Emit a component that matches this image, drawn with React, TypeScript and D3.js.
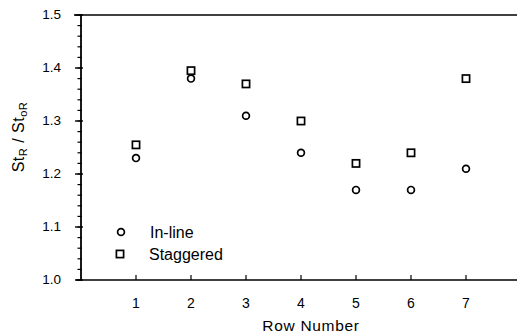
import React, { useEffect, useRef } from "react";
import * as d3 from "d3";

const rows = [1, 2, 3, 4, 5, 6, 7];
const inline = [1.23, 1.38, 1.31, 1.24, 1.17, 1.17, 1.21];
const staggered = [1.255, 1.395, 1.37, 1.3, 1.22, 1.24, 1.38];
const yTicks = [1.0, 1.1, 1.2, 1.3, 1.4, 1.5];

const W = 517;
const H = 333;

export default function App() {
  const svgRef = useRef<SVGSVGElement>(null);

  useEffect(() => {
    if (!svgRef.current) return;
    const svg = d3.select(svgRef.current);
    svg.selectAll("*").remove();

    const x = d3.scaleLinear().domain([0, 8]).range([81, 521]);
    const y = d3.scaleLinear().domain([1.0, 1.5]).range([280, 15]);
    const font = "Liberation Sans, Arial, sans-serif";

    // frame lines (left, top, bottom)
    svg.append("line").attr("x1", 74).attr("x2", W).attr("y1", y(1.5)).attr("y2", y(1.5))
      .attr("stroke", "#000").attr("stroke-width", 1.6);
    svg.append("line").attr("x1", 76).attr("x2", W).attr("y1", y(1.0)).attr("y2", y(1.0))
      .attr("stroke", "#000").attr("stroke-width", 1.6);
    svg.append("line").attr("x1", 81).attr("x2", 81).attr("y1", y(1.5)).attr("y2", y(1.0))
      .attr("stroke", "#000").attr("stroke-width", 1.8);

    // y minor ticks
    const minor = d3.range(1.0, 1.5001, 0.02);
    svg.append("g").selectAll("line").data(minor).join("line")
      .attr("x1", 77.5).attr("x2", 82)
      .attr("y1", d => y(d)).attr("y2", d => y(d))
      .attr("stroke", "#000").attr("stroke-width", 1.2);

    // y major ticks + labels
    const yg = svg.append("g");
    yg.selectAll("line").data(yTicks).join("line")
      .attr("x1", 75).attr("x2", 83)
      .attr("y1", d => y(d)).attr("y2", d => y(d))
      .attr("stroke", "#000").attr("stroke-width", 1.4);
    yg.selectAll("text").data(yTicks).join("text")
      .attr("x", 61).attr("y", d => y(d) + 4)
      .attr("text-anchor", "end")
      .attr("font-family", font).attr("font-size", 13.5)
      .attr("fill", "#000")
      .text(d => d.toFixed(1));

    // x ticks + labels
    const xg = svg.append("g");
    xg.selectAll("line").data(rows).join("line")
      .attr("x1", d => x(d)).attr("x2", d => x(d))
      .attr("y1", y(1.0)).attr("y2", y(1.0) - 5)
      .attr("stroke", "#000").attr("stroke-width", 1.2);
    xg.selectAll("text").data(rows).join("text")
      .attr("x", d => x(d)).attr("y", 308)
      .attr("text-anchor", "middle")
      .attr("font-family", font).attr("font-size", 14)
      .attr("fill", "#000")
      .text(d => d);

    svg.append("text")
      .attr("x", 311).attr("y", 331)
      .attr("text-anchor", "middle")
      .attr("font-family", font).attr("font-size", 15.5)
      .attr("letter-spacing", 0.7)
      .attr("fill", "#000")
      .text("Row Number");

    // y label
    const yl = svg.append("text")
      .attr("transform", `translate(24,137) rotate(-90)`)
      .attr("text-anchor", "middle")
      .attr("font-family", font).attr("font-size", 16)
      .attr("letter-spacing", 0.5)
      .attr("fill", "#000");
    yl.append("tspan").text("St");
    yl.append("tspan").attr("font-size", 11).attr("dy", 3).text("R");
    yl.append("tspan").attr("dy", -3).text(" / St");
    yl.append("tspan").attr("font-size", 11).attr("dy", 3).text("oR");

    // markers
    svg.append("g").selectAll("circle").data(rows).join("circle")
      .attr("cx", d => x(d)).attr("cy", (d, i) => y(inline[i]))
      .attr("r", 3.4)
      .attr("fill", "#fff").attr("stroke", "#000").attr("stroke-width", 1.7);
    svg.append("g").selectAll("rect").data(rows).join("rect")
      .attr("x", d => x(d) - 3.6).attr("y", (d, i) => y(staggered[i]) - 3.6)
      .attr("width", 7.2).attr("height", 7.2)
      .attr("fill", "#fff").attr("stroke", "#000").attr("stroke-width", 1.7);

    // legend
    svg.append("circle").attr("cx", 121).attr("cy", 232).attr("r", 3.4)
      .attr("fill", "#fff").attr("stroke", "#000").attr("stroke-width", 1.7);
    svg.append("text").attr("x", 150).attr("y", 237.5)
      .attr("font-family", font).attr("font-size", 16).attr("fill", "#000")
      .text("In-line");
    svg.append("rect").attr("x", 116.4).attr("y", 250.4).attr("width", 7.2).attr("height", 7.2)
      .attr("fill", "#fff").attr("stroke", "#000").attr("stroke-width", 1.7);
    svg.append("text").attr("x", 149).attr("y", 259.5)
      .attr("font-family", font).attr("font-size", 16).attr("fill", "#000")
      .text("Staggered");
  }, []);

  return (
    <svg
      ref={svgRef}
      width={W}
      height={H}
      style={{ position: "absolute", left: 0, top: 0, background: "#fff" }}
    />
  );
}
